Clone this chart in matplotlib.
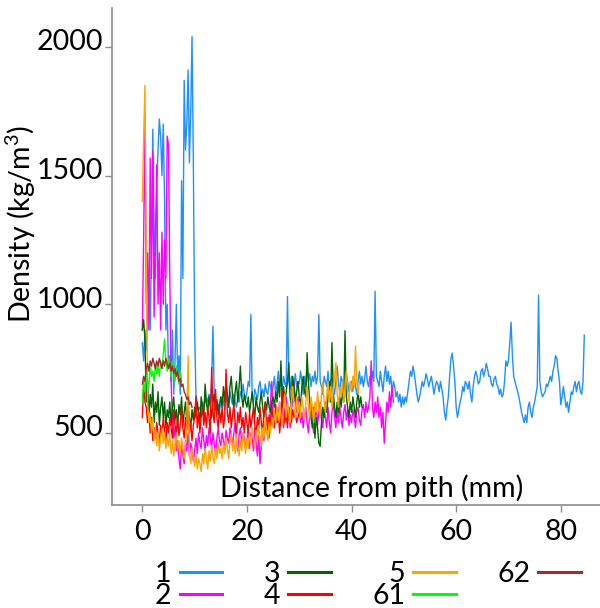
import numpy as np
import matplotlib
matplotlib.use("Agg")
import matplotlib.pyplot as plt
from matplotlib.transforms import ScaledTranslation

# ---------------- data (density, kg/m3, sampled every 0.25 mm from pith) ----------------
step_mm = 0.25

density_1 = [
    850, 780, 900, 820, 950, 1100, 900, 1250, 1680, 1300, 1100, 1450, 1600, 1720, 1650, 1500, 1700, 1400, 900, 1000,
    750, 800, 700, 900, 650, 780, 1000, 720, 800, 650, 1480, 1100, 1870, 1600, 1700, 1910, 1550, 1750, 2040, 1560,
    900, 650, 610, 590, 600, 580, 620, 600, 640, 610, 630, 650, 620, 700, 915, 640, 600, 620, 610, 590,
    610, 640, 620, 590, 650, 620, 600, 660, 630, 610, 650, 620, 600, 640, 620, 660, 640, 690, 650, 630,
    660, 700, 680, 960, 640, 620, 670, 650, 630, 680, 700, 650, 670, 640, 690, 660, 650, 700, 680, 660,
    680, 720, 650, 690, 740, 680, 700, 670, 720, 690, 680, 1030, 700, 670, 720, 650, 690, 730, 680, 700,
    690, 740, 700, 650, 720, 680, 760, 700, 730, 680, 720, 700, 740, 690, 720, 960, 700, 680, 650, 720,
    700, 680, 740, 660, 700, 720, 680, 650, 700, 760, 690, 660, 720, 700, 640, 680, 730, 700, 660, 690,
    700, 660, 720, 680, 650, 700, 740, 690, 720, 680, 710, 760, 700, 680, 720, 690, 740, 700, 1050, 720,
    700, 680, 740, 700, 660, 720, 760, 700, 740, 690, 720, 650, 700, 680, 640, 660, 620, 650, 600, 640,
    610, 640, 620, 660, 700, 740, 720, 760, 730, 690, 650, 620, 640, 670, 700, 680, 700, 730, 710, 680,
    700, 720, 690, 650, 680, 700, 690, 660, 700, 670, 640, 580, 550, 600, 640, 720, 790, 810, 760, 700,
    600, 560, 590, 620, 640, 680, 660, 700, 690, 670, 700, 650, 620, 680, 720, 740, 720, 690, 700, 740,
    750, 720, 740, 770, 750, 720, 720, 690, 680, 710, 720, 690, 680, 650, 670, 640, 650, 700, 780, 760,
    780, 850, 930, 800, 720, 700, 680, 660, 640, 610, 580, 560, 540, 570, 540, 600, 620, 580, 560, 600,
    620, 650, 680, 1035, 700, 660, 640, 650, 660, 690, 680, 700, 720, 700, 740, 760, 800, 790, 740, 700,
    610, 640, 680, 640, 600, 620, 580, 620, 660, 650, 680, 700, 660, 690, 700, 660, 650, 700, 880,
]

density_2 = [
    900, 1250, 1730, 1000, 1200, 900, 1568, 1100, 1594, 950, 1250, 1541, 1000, 1200, 900, 1280, 1000, 1250, 1100, 1653,
    1620, 1112, 700, 550, 480, 520, 430, 470, 400, 360, 450, 420, 380, 470, 430, 500, 410, 460, 440, 390,
    430, 480, 420, 500, 460, 440, 520, 470, 430, 490, 450, 520, 480, 440, 500, 460, 420, 480, 520, 470,
    450, 500, 470, 430, 510, 480, 460, 520, 490, 450, 500, 540, 470, 430, 490, 520, 460, 500, 480, 440,
    470, 520, 440, 500, 480, 430, 520, 460, 410, 490, 380, 450, 520, 470, 540, 500, 560, 480, 620, 700,
    560, 520, 600, 540, 580, 620, 550, 600, 520, 580, 640, 560, 600, 520, 580, 650, 700, 620, 580, 640,
    600, 540, 580, 520, 560, 600, 540, 500, 580, 620, 540, 500, 560, 600, 530, 580, 620, 560, 520, 590,
    560, 520, 600, 540, 500, 580, 620, 560, 520, 590, 540, 600, 560, 520, 580, 610, 550, 590, 530, 570,
    540, 590, 560, 520, 580, 600, 550, 530, 590, 610, 560, 620, 580, 600, 640, 780, 600, 560, 620, 580,
    640, 560, 600, 520, 580, 460, 540, 620, 580, 660, 600, 680, 620,
]

density_3 = [
    900, 940, 860, 620, 700, 560, 650, 600, 690, 540, 620, 580, 660, 530, 600, 640, 560, 620, 520, 590,
    560, 620, 530, 600, 640, 550, 590, 520, 610, 570, 640, 530, 580, 620, 540, 600, 560, 520, 590, 550,
    600, 560, 620, 580, 540, 640, 600, 560, 690, 620, 580, 640, 600, 560, 620, 650, 590, 630, 570, 610,
    640, 600, 680, 620, 700, 650, 600, 680, 720, 640, 600, 660, 700, 620, 680, 760, 640, 600, 650, 620,
    600, 640, 580, 620, 660, 600, 560, 640, 600, 580, 620, 660, 600, 560, 620, 590, 640, 600, 580, 620,
    640, 600, 660, 620, 700, 640, 780, 600, 680, 620, 660, 700, 773, 640, 600, 720, 680, 620, 660, 700,
    640, 600, 680, 720, 660, 640, 812, 700, 620, 560, 520, 600, 480, 560, 520, 460, 448, 540, 600, 560,
    620, 580, 640, 700, 620, 851, 660, 600, 560, 620, 580, 640, 600, 660, 620, 897, 640, 600, 560, 620,
    580, 640, 600, 560, 620, 660, 600, 640, 600,
]

density_4 = [
    560, 690, 620, 600, 540, 580, 500, 560, 470, 520, 480, 540, 500, 460, 530, 490, 560, 510, 470, 540,
    500, 560, 520, 480, 590, 530, 500, 560, 490, 530, 600, 520, 480, 560, 510, 580, 500, 540, 470, 530,
    560, 643, 520, 580, 500, 560, 600, 530, 580, 520, 600, 560, 500, 754, 580, 540, 669, 560, 520, 590,
    540, 600, 520, 560, 747, 580, 540, 600, 520, 570, 610, 540, 500, 580, 540, 600, 520, 560, 500, 580,
    540, 500, 580, 520, 560, 600, 530, 490, 560, 520, 600, 540, 500, 580, 620, 540, 510, 570, 530, 600,
    560, 520, 610, 540, 580, 500, 560, 669, 600, 540, 580, 520, 600, 560, 540, 590, 560, 580, 540, 560, 580,
]

density_5 = [
    1400, 1650, 1850, 1200, 620, 540, 580, 500, 560, 470, 520, 450, 500, 430, 480, 520, 460, 500, 440, 480,
    450, 500, 420, 470, 410, 460, 500, 430, 470, 420, 480, 440, 400, 450, 520, 800, 420, 380, 440, 400,
    370, 420, 360, 400, 380, 350, 420, 380, 440, 400, 360, 430, 390, 450, 410, 380, 440, 400, 460, 420,
    440, 400, 460, 420, 480, 440, 400, 460, 500, 430, 470, 420, 490, 450, 410, 470, 430, 500, 460, 420,
    480, 440, 500, 460, 520, 480, 440, 510, 470, 530, 490, 450, 520, 480, 560, 510, 470, 540, 500, 560,
    520, 580, 540, 600, 550, 620, 570, 530, 600, 650, 560, 620, 580, 540, 620, 680, 600, 560, 640, 580,
    620, 560, 640, 600, 550, 620, 680, 600, 560, 640, 600, 540, 620, 580, 660, 600, 560, 650, 700, 620,
    580, 650, 700, 620, 680, 600, 660, 720, 773, 650, 600, 680, 640, 700, 620, 680, 740, 660, 620, 700,
    660, 720, 680, 838, 700, 650, 700,
]

density_61 = [
    620, 700, 660, 740, 700, 680, 760, 720, 740, 700, 770, 730, 760, 720, 780, 750, 800, 865, 780, 740,
    790, 760, 720, 780, 740, 700, 760, 720, 690, 740, 700,
]

density_62 = [
    690, 720, 700, 750, 770, 740, 780, 760, 790, 770, 750, 780, 760, 790, 770, 750, 780, 760, 790, 770,
    750, 770, 740, 760, 730, 750, 720, 740, 700, 710, 680, 690, 660, 650, 630, 640, 610, 620, 600,
]

series_labels = ["1", "2", "3", "4", "5", "61", "62"]
series_values = [density_1, density_2, density_3, density_4, density_5, density_61, density_62]
series_colors = ["#1E90FF", "#FF00FF", "#006400", "#FF0000", "#FFA500", "#00FF00", "#A52A2A"]

x_ticks = [0, 20, 40, 60, 80]
y_ticks = [500, 1000, 1500, 2000]
x_label = "Distance from pith (mm)"
y_label = r"Density (kg/m$^{\mathregular{3}}$)"

# ---------------- figure ----------------
plt.rcParams["font.family"] = ["Lato", "DejaVu Sans"]
FS = 20.5

fig = plt.figure(figsize=(6.0, 6.08), dpi=100)
ax = fig.add_axes([112 / 600, 1 - 505 / 608, 488 / 600, 497 / 608])

for lab, vals, col in zip(series_labels, series_values, series_colors):
    x = np.arange(len(vals)) * step_mm
    ax.plot(x, vals, color=col, lw=1.0, label=lab)

ax.set_xlim(-5.8, 87.5)
ax.set_ylim(220, 2151)
ax.set_xticks(x_ticks)
ax.set_yticks(y_ticks)

for s in ["top", "right"]:
    ax.spines[s].set_visible(False)
for s in ["left", "bottom"]:
    ax.spines[s].set_color("#8c8c8c")
    ax.spines[s].set_linewidth(1.2)

ax.tick_params(axis="both", colors="#8c8c8c", labelcolor="black", labelsize=FS,
               length=5, width=1.0, direction="out")
ax.tick_params(axis="y", pad=1.5)
ax.tick_params(axis="x", pad=5)

offset = ScaledTranslation(0, 0.07, fig.dpi_scale_trans)
for lbl in ax.get_yticklabels():
    lbl.set_transform(lbl.get_transform() + offset)

ax.set_xlabel(x_label, fontsize=FS)
ax.xaxis.label.set_va("baseline")
ax.xaxis.set_label_coords(0.531, 0.0155)

ax.set_ylabel(y_label, fontsize=FS)
ax.yaxis.set_label_coords(-0.152, 0.565)

leg = ax.legend(ncol=4, markerfirst=False, frameon=False, fontsize=FS,
                loc="upper left", bbox_to_anchor=(155 / 600, 1 - 561 / 608),
                bbox_transform=fig.transFigure, borderpad=0, borderaxespad=0,
                handlelength=1.5, handletextpad=0.28, columnspacing=1.45,
                labelspacing=-0.14)
for h in leg.get_lines():
    h.set_linewidth(2.2)

fig.savefig("out.png", dpi=100)
